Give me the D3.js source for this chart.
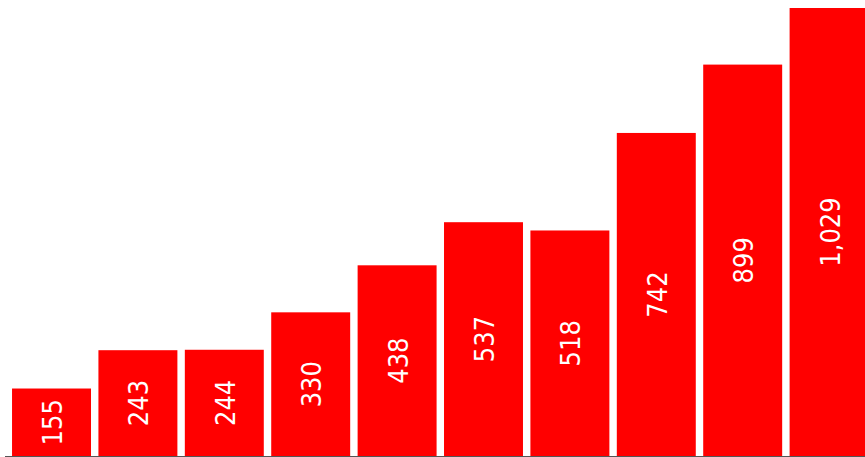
<!DOCTYPE html>
<html>
<head>
<meta charset="utf-8">
<script src="https://cdn.jsdelivr.net/npm/d3@7"></script>
<style>
  body { margin: 0; background: #fff; }
  svg { display: block; }
  .label { fill: #fff; font-family: "DejaVu Sans Condensed", "DejaVu Sans", sans-serif; font-stretch: condensed; font-size: 27px; }
</style>
</head>
<body>
<script>
// bar categories and values
var categories = ["c1", "c2", "c3", "c4", "c5", "c6", "c7", "c8", "c9", "c10"];
var values = [155, 243, 244, 330, 438, 537, 518, 742, 899, 1029];

var width = 865, height = 457;

var svg = d3.select("body").append("svg")
    .attr("width", width)
    .attr("height", height);

// band scale runs past the right edge, so the last bar is cut off like the original
var x = d3.scaleBand()
    .domain(categories)
    .range([4.6, 876])
    .padding(0.086);

var y = d3.scaleLinear()
    .domain([0, 1029])
    .range([456, 8]);

var fmt = d3.format(",");

var bars = svg.selectAll("g.bar")
    .data(values)
  .enter().append("g")
    .attr("class", "bar");

bars.append("rect")
    .attr("x", function(d, i) { return x(categories[i]); })
    .attr("y", function(d) { return y(d); })
    .attr("width", x.bandwidth())
    .attr("height", function(d) { return y(0) - y(d); })
    .attr("fill", "#ff0000");

// value labels, rotated, centred in each bar
bars.append("text")
    .attr("class", "label")
    .attr("text-anchor", "middle")
    .attr("dy", "0.35em")
    .attr("transform", function(d, i) {
      var cx = x(categories[i]) + x.bandwidth() / 2 + 1;
      var cy = (y(d) + y(0)) / 2;
      return "translate(" + cx + "," + cy + ") rotate(-90)";
    })
    .text(function(d) { return fmt(d); });

// baseline
svg.append("line")
    .attr("x1", 5)
    .attr("x2", width)
    .attr("y1", 456.5)
    .attr("y2", 456.5)
    .attr("stroke", "#555")
    .attr("stroke-width", 1);
</script>
</body>
</html>
